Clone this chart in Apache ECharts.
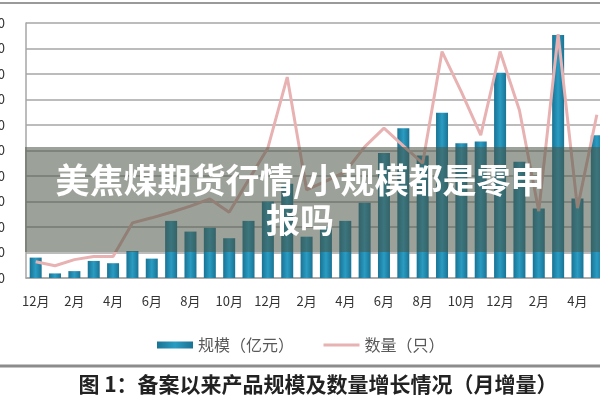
<!DOCTYPE html>
<html>
<head>
<meta charset="utf-8">
<script src="https://cdn.jsdelivr.net/npm/echarts@6/dist/echarts.min.js"></script>
<style>
html,body{margin:0;padding:0;background:#fff;}
#main{width:600px;height:400px;}
</style>
</head>
<body>
<div id="main"></div>
<script>
// 月份（12月起）
var months = ['12月','1月','2月','3月','4月','5月','6月','7月','8月','9月','10月','11月',
              '12月','1月','2月','3月','4月','5月','6月','7月','8月','9月','10月','11月',
              '12月','1月','2月','3月','4月','5月'];
// 规模（亿元）月增量
var scaleData = [8, 1.8, 2.7, 6.7, 5.8, 10.6, 7.6, 22.4, 18.2, 19.7, 15.6, 22.4,
                 30, 37, 16.2, 20, 22.4, 29.5, 49, 58.7, 48, 64.8, 52.8, 53.5,
                 80.5, 45.6, 27.3, 95.3, 31.2, 56];
// 数量（只）月增量
var countData = [32, 24, 36, 42, 42, 108, 118, 129, 141, 155, 129, 192,
                 255, 394, 173, 190, 208, 257, 294, 259, 225, 444, 365, 280,
                 444, 329, 131, 478, 137, 320];
var seriesNames = ['规模（亿元）', '数量（只）'];
var bannerText = '美焦煤期货行情/小规模都是零申\n报吗';
var caption = '图 1：备案以来产品规模及数量增长情况（月增量）';

var myChart = echarts.init(document.getElementById('main'));
myChart.setOption({
    animation: false,
    textStyle: { fontFamily: '"Noto Sans CJK SC", sans-serif' },
    // 绘图区超出画布右侧，左侧刻度文字被裁掉
    grid: { left: 26, top: 23, width: 580.5, height: 255, containLabel: false, outerBoundsMode: 'none' },
    legend: {
        left: 152,
        top: 332,
        itemWidth: 36,
        itemHeight: 7,
        itemGap: 28,
        textStyle: { color: '#595959', fontSize: 16 },
        lineStyle: { width: 3 },
        data: [
            { name: seriesNames[0], icon: 'rect' },
            { name: seriesNames[1], itemStyle: { opacity: 0 } }
        ]
    },
    xAxis: {
        type: 'category',
        data: months,
        axisTick: { show: false },
        axisLine: { lineStyle: { color: '#a6a6a6', width: 1.5 } },
        axisLabel: { interval: 1, margin: 17, color: '#333', fontSize: 13 }
    },
    yAxis: [
        {
            type: 'value',
            min: 0, max: 100, interval: 10,
            axisLine: { show: true, lineStyle: { color: '#a6a6a6', width: 1.5 } },
            axisTick: { show: false },
            axisLabel: { margin: 21, color: '#333', fontSize: 13 },
            splitLine: { lineStyle: { color: '#a6a6a6', width: 1.5 } }
        },
        {
            type: 'value',
            min: 0, max: 500, interval: 50,
            show: false,
            splitLine: { show: false }
        }
    ],
    series: [
        {
            name: seriesNames[0],
            type: 'bar',
            barWidth: 12,
            itemStyle: {
                color: new echarts.graphic.LinearGradient(0, 0, 1, 0, [
                    { offset: 0, color: '#1a7394' },
                    { offset: 0.5, color: '#2a9cc2' },
                    { offset: 1, color: '#1a7394' }
                ])
            },
            data: scaleData
        },
        {
            name: seriesNames[1],
            type: 'line',
            yAxisIndex: 1,
            symbol: 'none',
            lineStyle: { color: '#e8b2b2', width: 3 },
            itemStyle: { color: '#e8b2b2' },
            z: 3,
            data: countData
        }
    ],
    graphic: [
        {
            type: 'line', z: 10,
            shape: { x1: 0, y1: 3, x2: 600, y2: 3 },
            style: { stroke: '#9a9a9a', lineWidth: 2 }
        },
        {
            type: 'line', z: 10,
            shape: { x1: 0, y1: 366, x2: 600, y2: 366 },
            style: { stroke: '#8c8c8c', lineWidth: 3 }
        },
        {
            type: 'text', z: 10,
            x: 318, y: 384,
            style: {
                text: caption,
                font: 'bold 21px "Noto Sans CJK SC", sans-serif',
                fill: '#222',
                align: 'center',
                verticalAlign: 'middle'
            }
        },
        {
            type: 'rect', z: 100,
            shape: { x: 25, y: 147, width: 575, height: 105 },
            style: { fill: 'rgba(75,85,70,0.55)' }
        },
        {
            type: 'text', z: 101,
            x: 300, y: 200,
            style: {
                text: bannerText,
                font: 'bold 34px "Noto Sans CJK SC", sans-serif',
                fill: '#fff',
                align: 'center',
                verticalAlign: 'middle',
                lineHeight: 40
            }
        }
    ]
});
</script>
</body>
</html>
